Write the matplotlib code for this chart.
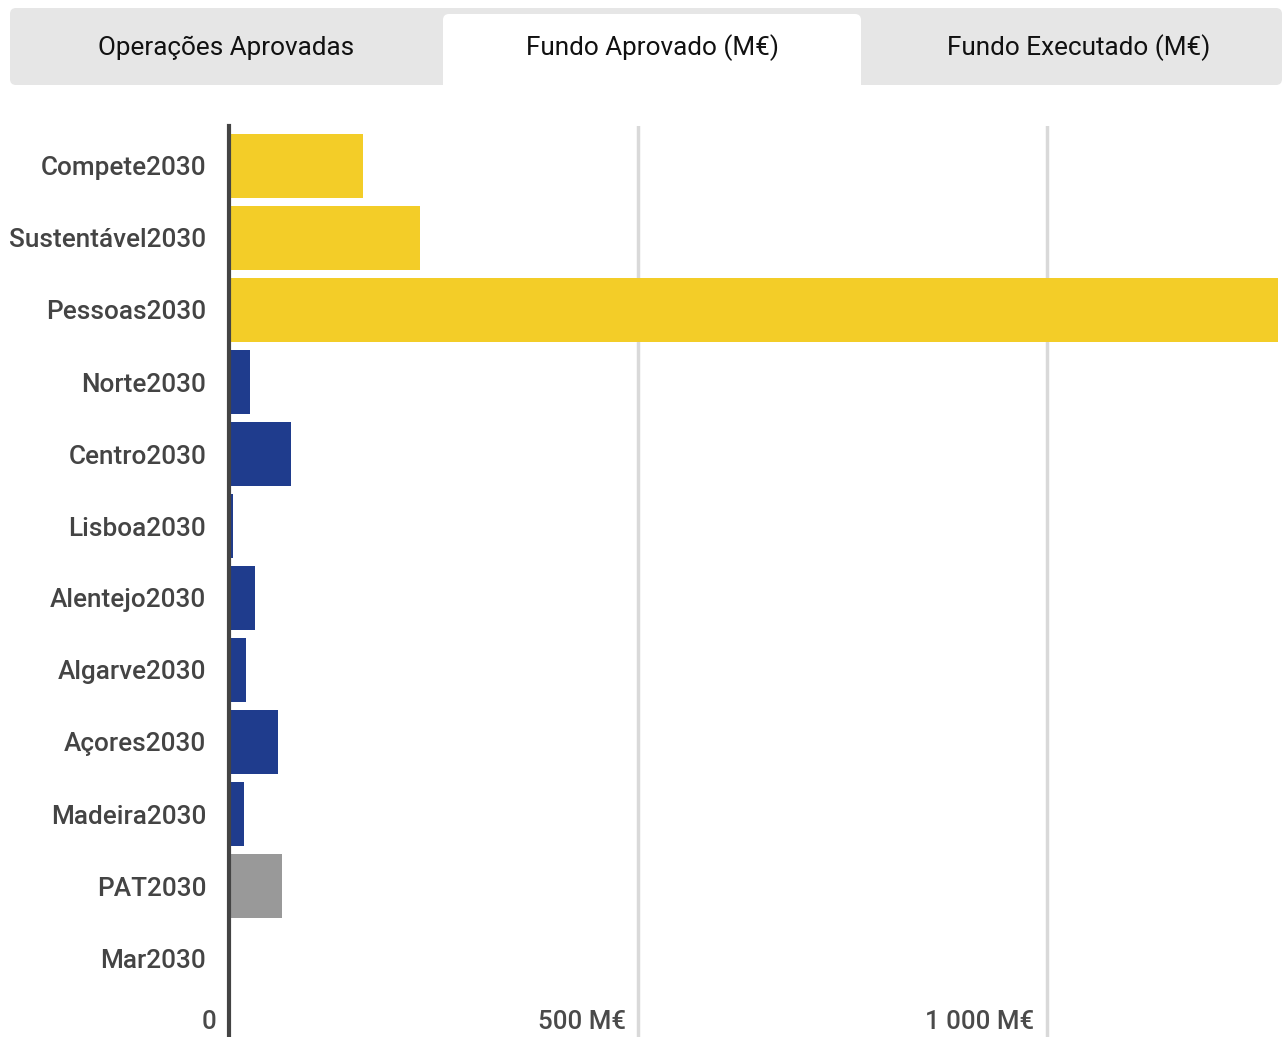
'''
Fundo Aprovado (M€) por programa - horizontal bar chart with tab header.
'''

import matplotlib
matplotlib.use('Agg')
from matplotlib import pyplot as plt
from matplotlib.patches import FancyBboxPatch, Rectangle

programas = ['Compete2030', 'Sustentável2030', 'Pessoas2030', 'Norte2030',
             'Centro2030', 'Lisboa2030', 'Alentejo2030', 'Algarve2030',
             'Açores2030', 'Madeira2030', 'PAT2030', 'Mar2030']
fundo_aprovado = [164, 234, 1283, 26, 76, 5, 32, 21, 60, 19, 66, 0]
grupo = ['tematico', 'tematico', 'tematico', 'regional', 'regional',
         'regional', 'regional', 'regional', 'regional', 'regional',
         'assistencia', 'mar']
tabs = ['Operações Aprovadas', 'Fundo Aprovado (M€)', 'Fundo Executado (M€)']
ticks = [0, 500, 1000]
tick_labels = ['0', '500 M€', '1 000 M€']

cores = {'tematico': '#F3CD28', 'regional': '#1F3C8D',
         'assistencia': '#999999', 'mar': '#1F3C8D'}

plt.rcParams['font.family'] = ['Roboto', 'DejaVu Sans']

W, H = 1282, 1037
fig = plt.figure(figsize=(W / 100, H / 100), dpi=100)

# header with the three tabs, drawn in pixel coordinates
hdr = fig.add_axes([0, 0, 1, 1])
hdr.set_xlim(0, W)
hdr.set_ylim(H, 0)
hdr.axis('off')
hdr.add_patch(FancyBboxPatch((10, 8), W - 10, 77,
                             boxstyle='round,pad=0,rounding_size=6',
                             fc='#e6e6e6', ec='none'))
hdr.add_patch(FancyBboxPatch((443, 14), 418, 80,
                             boxstyle='round,pad=0,rounding_size=6',
                             fc='white', ec='none'))
hdr.add_patch(Rectangle((0, 85), W, 20, fc='white', ec='none'))
tab_centres = [226, 652, 1079]
for cx, label in zip(tab_centres, tabs):
    hdr.text(cx, 48, label, ha='center', va='center', fontsize=18.8,
             color='#111111')

# bar chart
x0, x1 = 228.5, 1278
y_top, y_bot = 126, 1037
ax = fig.add_axes([x0 / W, 1 - y_bot / H, (x1 - x0) / W, (y_bot - y_top) / H])
ax.set_xlim(0, max(fundo_aprovado))
ax.set_ylim((y_bot - 166) / 72, (y_top - 166) / 72)

rows = list(range(len(programas)))
ax.barh(rows, fundo_aprovado, height=0.9,
        color=[cores[g] for g in grupo], zorder=2)

for t in ticks[1:]:
    ax.axvline(t, color='#d9d9d9', lw=2.5, zorder=1)
ax.axvline(0, color='#444444', lw=3, zorder=3, clip_on=False)

for t, lab in zip(ticks, tick_labels):
    ax.annotate(lab, (t, 11.89), xytext=(-12, 0), textcoords='offset pixels',
                ha='right', va='center', fontsize=18.6, color='#4a4a4a',
                fontweight='medium', annotation_clip=False)

ax.set_yticks(rows)
ax.set_yticklabels(programas, fontsize=18.8, color='#444444',
                   fontweight='medium')
ax.tick_params(axis='y', length=0, pad=16)
ax.set_xticks([])
for s in ax.spines.values():
    s.set_visible(False)

fig.savefig('out.png', dpi=100)
plt.close(fig)
